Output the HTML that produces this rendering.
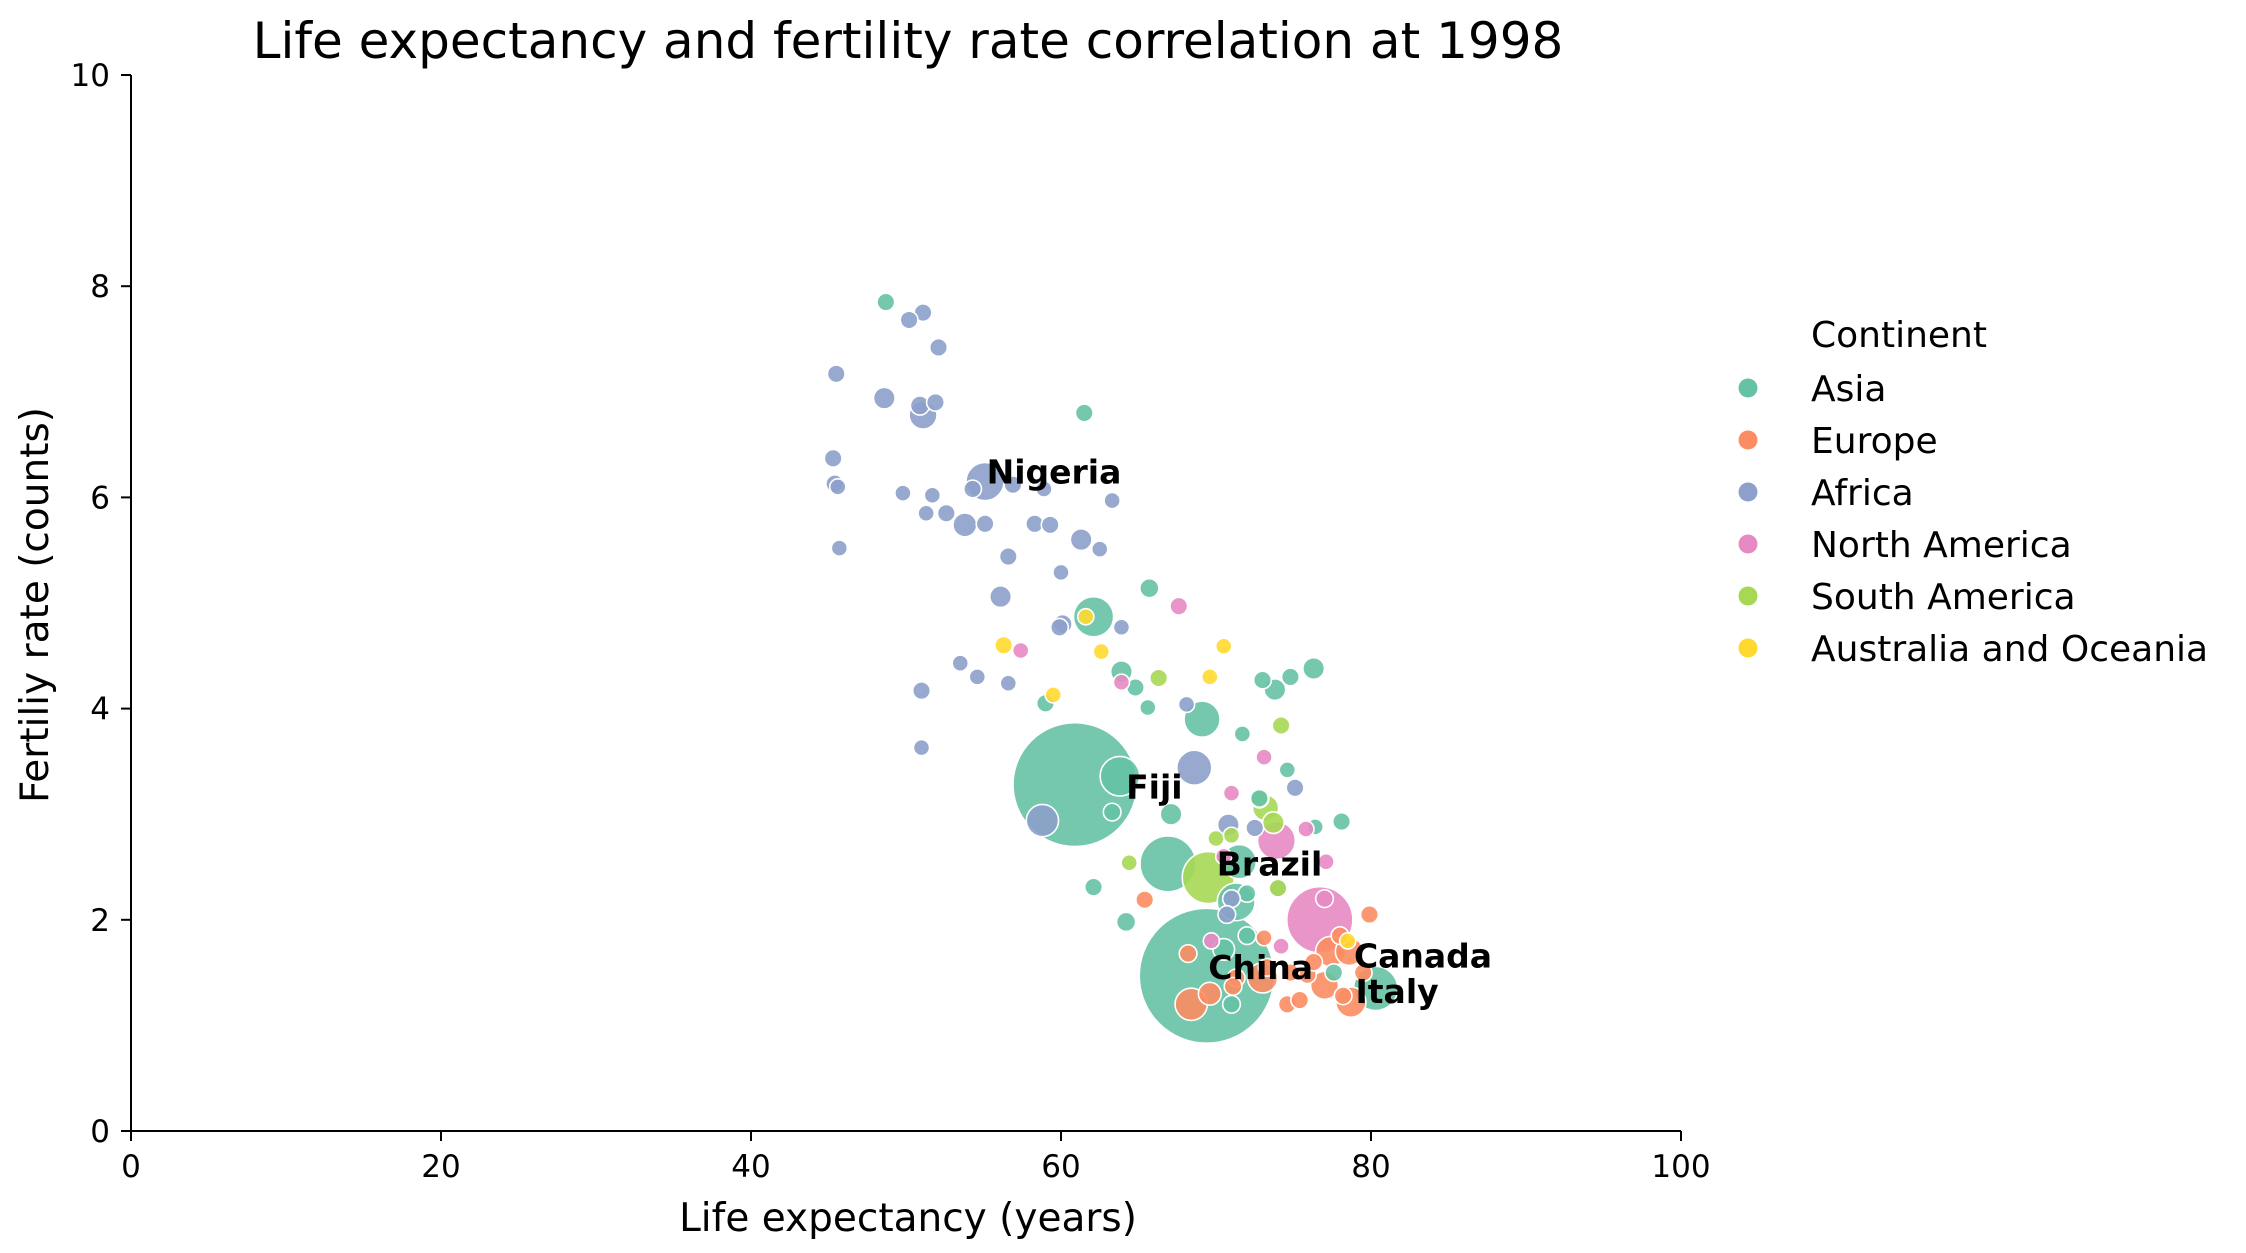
<!DOCTYPE html>
<html><head><meta charset="utf-8">
<style>
html,body{margin:0;padding:0;background:#fff;}
svg{display:block;font-family:"DejaVu Sans","Liberation Sans",sans-serif;}
</style></head>
<body>
<svg id="chart" width="2246" height="1253" viewBox="0 0 2246 1253" xmlns="http://www.w3.org/2000/svg">
<text x="908" y="58" font-size="50" text-anchor="middle">Life expectancy and fertility rate correlation at 1998</text>
<g id="marks"></g>
<g id="labels"></g>
<g id="axes"></g>
<text x="908" y="1231" font-size="39" text-anchor="middle">Life expectancy (years)</text>
<text transform="translate(48,605) rotate(-90)" font-size="39" text-anchor="middle">Fertiliy rate (counts)</text>
<g id="legend"></g>
</svg>
<script>
// ---- data ----
const continents = ["Asia","Europe","Africa","North America","South America","Australia and Oceania"];
const colors = ["#66c2a5","#fc8d62","#8da0cb","#e78ac3","#a6d854","#ffd92f"];
const xTicks = [0,20,40,60,80,100];
const yTicks = [0,2,4,6,8,10];

const asiaLife = [48.7,61.5,62.1,65.7,63.9,64.8,65.6,59,69.1,71.7,73,74.8,73.8,76.3,74.6,60.9,63.8,63.3,67.1,78.1,72.8,76.4,66.9,71.5,71.3,62.1,64.2,69.4,80.3,70.5,72,77.6,71,72];
const asiaFert = [7.85,6.8,4.87,5.14,4.35,4.2,4.01,4.05,3.9,3.76,4.27,4.3,4.18,4.38,3.42,3.28,3.36,3.02,3.0,2.93,3.15,2.88,2.53,2.55,2.17,2.31,1.98,1.47,1.35,1.72,2.25,1.5,1.2,1.85];
const asiaPop = [12,12,62,14,18,12,10,12,50,10,12,12,18,18,10,590,60,12,18,12,12,10,120,45,55,12,14,700,75,18,12,12,12,12];

const euLife = [65.4,79.9,68.2,73.1,68.4,69.6,71.3,71.1,73,73.3,74.6,75.4,75.9,77,77.4,78.6,78.7,79.5,78.2,74.8,76.3,78];
const euFert = [2.19,2.05,1.68,1.83,1.2,1.3,1.45,1.37,1.45,1.55,1.2,1.24,1.48,1.38,1.7,1.7,1.22,1.5,1.28,1.5,1.6,1.85];
const euPop = [12,12,12,10,40,20,12,12,35,12,12,12,12,30,35,30,35,12,12,12,12,12];

const afLife = [51.1,50.2,52.1,45.5,48.6,51.9,51.1,50.9,45.3,45.4,45.6,55.1,56.9,58.9,54.3,63.3,49.8,51.7,51.3,52.6,53.8,55.1,58.3,59.3,45.7,61.3,62.5,56.6,60,56.1,60.1,59.9,63.9,53.5,54.6,56.6,51,68.1,51,68.6,75.1,58.8,70.8,72.5,71,70.7,74];
const afFert = [7.75,7.68,7.42,7.17,6.94,6.9,6.78,6.87,6.37,6.13,6.1,6.15,6.12,6.08,6.08,5.97,6.04,6.02,5.85,5.85,5.74,5.75,5.75,5.74,5.52,5.6,5.51,5.44,5.29,5.06,4.8,4.77,4.77,4.43,4.3,4.24,4.17,4.04,3.63,3.44,3.25,2.94,2.9,2.87,2.2,2.05,2.3];
const afPop = [12,12,12,12,18,12,30,14,12,12,10,56,12,10,12,10,10,10,10,12,22,12,12,12,10,18,10,12,10,18,14,12,10,10,10,10,12,10,10,47,12,40,18,12,12,12,12];

const naLife = [67.6,57.4,63.9,73.1,71,75.8,77.1,73.9,76.7,74.2,69.7,77,70.5];
const naFert = [4.97,4.55,4.25,3.54,3.2,2.86,2.55,2.75,2.0,1.75,1.8,2.2,2.6];
const naPop = [12,10,10,10,10,10,10,55,168,10,10,12,10];

const saLife = [66.3,74.2,70,72.8,73.2,73.7,64.4,69.5,74,71];
const saFert = [4.29,3.84,2.77,3.15,3.06,2.92,2.54,2.4,2.3,2.8];
const saPop = [12,12,10,14,26,18,10,104,12,10];

const ocLife = [61.6,56.3,62.6,70.5,69.6,59.5,78.5];
const ocFert = [4.87,4.6,4.54,4.59,4.3,4.13,1.8];
const ocPop = [10,12,10,10,10,10,10];

const labelNames = ["Nigeria","Fiji","Brazil","China","Canada","Italy"];
const labelLife = [55.2,64.2,70.05,69.5,78.9,79.0];
const labelFert = [6.13,3.15,2.42,1.44,1.55,1.21];

// ---- scales ----
const X0=131, X1=1681, Y0=1131, Y1=75;
function sx(v){return X0+(v-0)/(100-0)*(X1-X0);}
function sy(v){return Y0-(v-0)/(10-0)*(Y0-Y1);}
function sr(p){return 2.55*Math.sqrt(p);}

const NS="http://www.w3.org/2000/svg";
function mk(tag,attrs,parent){const e=document.createElementNS(NS,tag);for(const k in attrs)e.setAttribute(k,attrs[k]);parent.appendChild(e);return e;}

const marks=document.getElementById('marks');
const series=[[asiaLife,asiaFert,asiaPop],[euLife,euFert,euPop],[afLife,afFert,afPop],[naLife,naFert,naPop],[saLife,saFert,saPop],[ocLife,ocFert,ocPop]];
let pts=[];
series.forEach((s,ci)=>{s[0].forEach((v,i)=>pts.push({ci,x:v,y:s[1][i],p:s[2][i]}));});
pts.sort((a,b)=>b.p-a.p);
pts.forEach(pt=>{
  const c=mk('circle',{cx:sx(pt.x),cy:sy(pt.y),r:sr(pt.p),fill:colors[pt.ci],'fill-opacity':0.9,stroke:'#fff','stroke-width':1.6},marks);
  
  
});

const labels=document.getElementById('labels');
labelNames.forEach((n,i)=>{
  const t=mk('text',{x:sx(labelLife[i]),y:sy(labelFert[i]),'font-size':33,'font-weight':'bold'},labels);
  t.textContent=n;
  
  
});

const axes=document.getElementById('axes');
const xl=mk('line',{x1:X0,y1:Y0,x2:X1,y2:Y0,stroke:'#000','stroke-width':2},axes);


const yl=mk('line',{x1:X0,y1:Y0,x2:X0,y2:Y1,stroke:'#000','stroke-width':2},axes);


xTicks.forEach(v=>{
  mk('line',{x1:sx(v),y1:Y0,x2:sx(v),y2:Y0+10,stroke:'#000','stroke-width':2},axes);
  const t=mk('text',{x:sx(v),y:1177,'font-size':31,'text-anchor':'middle'},axes);
  t.textContent=v;
  
  
});
yTicks.forEach(v=>{
  mk('line',{x1:X0-10,y1:sy(v),x2:X0,y2:sy(v),stroke:'#000','stroke-width':2},axes);
  const t=mk('text',{x:110,y:sy(v)+11,'font-size':31,'text-anchor':'end'},axes);
  t.textContent=v;
  
  
});

const legend=document.getElementById('legend');
const lt=mk('text',{x:1811,y:347,'font-size':36},legend);
lt.textContent="Continent";


continents.forEach((c,i)=>{
  const y=388+i*52;
  const g=mk('g',{},legend);
  
  
  mk('circle',{cx:1748,cy:y,r:9.5,fill:colors[i]},g);
  const t=mk('text',{x:1811,y:y+13,'font-size':36},g);
  t.textContent=c;
});
</script>
</body></html>
